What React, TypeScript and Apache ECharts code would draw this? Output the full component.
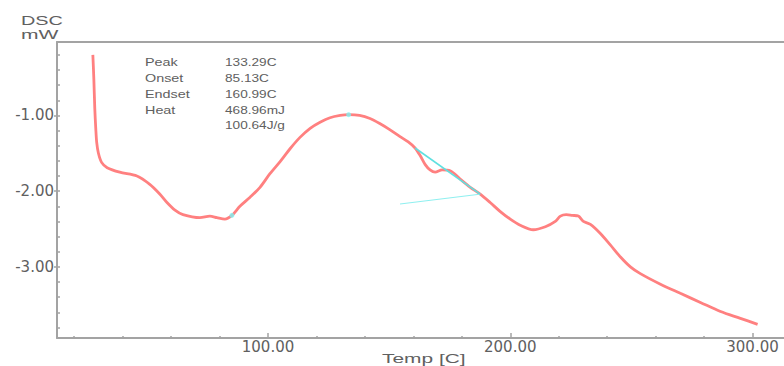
import React, { useEffect, useRef } from "react";
import * as echarts from "echarts";

const temps = [27.7, 28.1, 28.5, 28.9, 29.3, 30.0, 31.3, 33.6, 38.8, 45.9, 51.2, 55.4, 58.3, 61.6, 64.9, 71.9, 76.0, 78.9, 82.2, 85.1, 88.4, 92.6, 96.7, 100.8, 105.0, 109.1, 113.2, 117.4, 121.5, 125.6, 129.8, 133.3, 137.8, 142.1, 146.3, 150.4, 154.5, 157.9, 160.7, 162.8, 164.9, 166.9, 169.0, 171.9, 175.2, 179.3, 183.5, 187.6, 191.7, 195.9, 200.0, 204.1, 209.5, 214.5, 218.6, 220.7, 223.1, 225.6, 228.1, 230.2, 233.1, 237.2, 241.3, 245.5, 249.6, 253.7, 262.0, 270.2, 278.5, 286.8, 295.0, 302.1];
const dscValues = [-0.2, -0.51, -0.91, -1.17, -1.36, -1.5, -1.62, -1.69, -1.75, -1.8, -1.91, -2.04, -2.15, -2.25, -2.31, -2.35, -2.33, -2.35, -2.37, -2.32, -2.2, -2.08, -1.95, -1.77, -1.61, -1.44, -1.29, -1.17, -1.09, -1.03, -1.0, -0.99, -1.0, -1.04, -1.11, -1.19, -1.28, -1.35, -1.43, -1.53, -1.65, -1.72, -1.75, -1.72, -1.73, -1.84, -1.95, -2.04, -2.15, -2.27, -2.37, -2.45, -2.51, -2.47, -2.4, -2.33, -2.31, -2.32, -2.33, -2.4, -2.44, -2.56, -2.71, -2.87, -3.0, -3.09, -3.23, -3.35, -3.47, -3.59, -3.68, -3.76];

const tangentT = [160.7, 187.6];
const tangentV = [-1.43, -2.04];
const baseT = [154.5, 187.6];
const baseV = [-2.17, -2.04];
const markerT = [85.1, 133.3];
const markerV = [-2.32, -0.99];

const xMajor = [100, 200, 300];
const xMinor = [20, 40, 60, 80, 120, 140, 160, 180, 220, 240, 260, 280];
const yMajor = [-3, -2, -1];
const yMinor = [-3.8, -3.6, -3.4, -3.2, -3.0, -2.8, -2.6, -2.4, -2.2, -2.0, -1.8, -1.6, -1.4, -1.2, -1.0, -0.8, -0.6, -0.4, -0.2];

const annoNames = ["Peak", "Onset", "Endset", "Heat", ""];
const annoValues = ["133.29C", "85.13C", "160.99C", "468.96mJ", "100.64J/g"];

const X_MIN = 12.9;
const X_MAX = 313;
const Y_MIN = -3.94;
const Y_MAX = -0.03;

const axisColor = "#a3a3a3";
const textColor = "#606060";
const labelFont = "DejaVu Sans";

export default function App() {
  const ref = useRef<HTMLDivElement>(null);
  useEffect(() => {
    document.body.style.margin = "0";
    const chart = echarts.init(ref.current!, null, { renderer: "svg" });
    const pairs = (a: number[], b: number[]) => a.map((v, i) => [v, b[i]]);
    const graphics: any[] = [];
    const txt = (text: string, x: number, y: number, size: number, sx: number) => ({
      type: "text",
      x,
      y,
      scaleX: sx,
      style: {
        text,
        fill: textColor,
        font: `${size}px "Liberation Sans", Arial, sans-serif`,
        textAlign: "left",
        textVerticalAlign: "middle",
      },
    });
    graphics.push(txt("DSC", 21, 21, 13.5, 1.47));
    graphics.push(txt("mW", 21, 35, 13, 1.62));
    graphics.push(txt("Temp [C]", 382, 358, 13.5, 1.55));
    const rows = [63, 79, 95, 111, 126];
    annoNames.forEach((n, i) => {
      if (n) graphics.push(txt(n, 145, rows[i], 10.5, 1.37));
    });
    annoValues.forEach((v, i) => graphics.push(txt(v, 225, rows[i], 10.5, 1.3)));

    chart.setOption({
      animation: false,
      grid: { left: 57, right: 0, top: 42, bottom: 28 },
      xAxis: [
        {
          type: "value",
          min: X_MIN,
          max: X_MAX,
          position: "bottom",
          splitLine: { show: false },
          axisLine: { show: true, onZero: false, lineStyle: { color: axisColor, width: 2 } },
          axisTick: { show: true, inside: true, length: 5, customValues: xMajor, lineStyle: { color: axisColor, width: 1.5 } },
          axisLabel: {
            show: true,
            customValues: xMajor,
            formatter: (v: number) => v.toFixed(2),
            color: textColor,
            fontFamily: labelFont,
            fontSize: 15,
            margin: 1,
          },
        },
        {
          type: "value",
          min: X_MIN,
          max: X_MAX,
          position: "bottom",
          splitLine: { show: false },
          axisLine: { show: false, onZero: false },
          axisTick: { show: true, inside: true, length: 2, customValues: xMinor, lineStyle: { color: axisColor, width: 1.5 } },
          axisLabel: { show: false },
        },
        {
          type: "value",
          min: X_MIN,
          max: X_MAX,
          position: "top",
          splitLine: { show: false },
          axisLine: { show: true, onZero: false, lineStyle: { color: axisColor, width: 2 } },
          axisTick: { show: false },
          axisLabel: { show: false },
        },
      ],
      yAxis: [
        {
          type: "value",
          min: Y_MIN,
          max: Y_MAX,
          position: "left",
          splitLine: { show: false },
          axisLine: { show: true, onZero: false, lineStyle: { color: axisColor, width: 2 } },
          axisTick: { show: true, inside: false, length: 3, customValues: yMajor, lineStyle: { color: axisColor, width: 1.5 } },
          axisLabel: {
            show: true,
            customValues: yMajor,
            formatter: (v: number) => v.toFixed(2),
            color: textColor,
            fontFamily: labelFont,
            fontSize: 15,
            margin: 3,
          },
        },
        {
          type: "value",
          min: Y_MIN,
          max: Y_MAX,
          position: "left",
          splitLine: { show: false },
          axisLine: { show: false, onZero: false },
          axisTick: { show: true, inside: true, length: 3, customValues: yMinor, lineStyle: { color: axisColor, width: 1.5 } },
          axisLabel: { show: false },
        },
      ],
      series: [
        {
          type: "line",
          xAxisIndex: 0,
          yAxisIndex: 0,
          data: pairs(temps, dscValues),
          smooth: 0.3,
          showSymbol: false,
          lineStyle: { color: "#ff8080", width: 2.8 },
          z: 2,
        },
        {
          type: "line",
          data: pairs(baseT, baseV),
          showSymbol: false,
          lineStyle: { color: "#8ef0f0", width: 1 },
          z: 3,
        },
        {
          type: "line",
          data: pairs(tangentT, tangentV),
          showSymbol: false,
          lineStyle: { color: "#5fe0e0", width: 1.6 },
          z: 3,
        },
        {
          type: "scatter",
          data: pairs(markerT, markerV),
          symbolSize: 5,
          itemStyle: { color: "#7ff0f0" },
          z: 4,
        },
      ],
      graphic: graphics,
    });
    return () => chart.dispose();
  }, []);
  return <div ref={ref} style={{ width: 784, height: 366 }} />;
}
